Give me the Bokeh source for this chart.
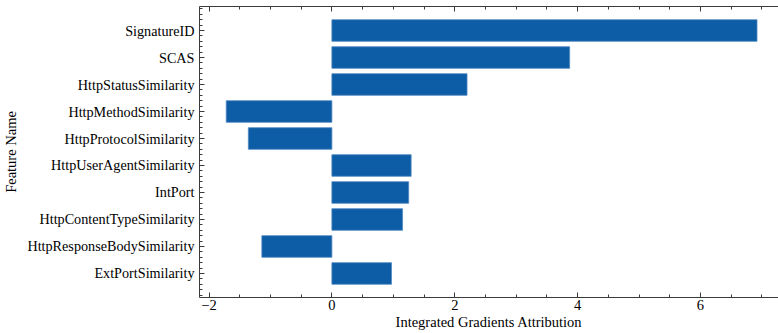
from bokeh.plotting import figure
from bokeh.models import Range1d, FixedTicker, LinearAxis, ColumnDataSource
from bokeh.embed import file_html
from bokeh.resources import INLINE

features = [
    "SignatureID", "SCAS", "HttpStatusSimilarity", "HttpMethodSimilarity",
    "HttpProtocolSimilarity", "HttpUserAgentSimilarity", "IntPort",
    "HttpContentTypeSimilarity", "HttpResponseBodySimilarity", "ExtPortSimilarity",
]
attribution = [6.92, 3.87, 2.20, -1.72, -1.36, 1.29, 1.25, 1.15, -1.14, 0.97]
x_ticks = [-2, 0, 2, 4, 6]

FONT = "Liberation Serif"
AXIS_COLOR = "#3a3a3a"

pos = list(range(len(features)))
src = ColumnDataSource(dict(y=pos, right=attribution, left=[0] * len(pos)))

p = figure(width=778, height=333, output_backend="svg", toolbar_location=None,
           x_range=Range1d(-2.155, 7.27), y_range=Range1d(len(pos) - 0.11, -0.89),
           min_border_left=198, min_border_right=0, min_border_top=6, min_border_bottom=36,
           x_axis_location=None, y_axis_location=None)
p.outline_line_color = None
p.grid.visible = False
p.background_fill_color = "white"
p.border_fill_color = "white"

p.hbar(y="y", left="left", right="right", height=0.8, source=src,
       fill_color="#0C5DA5", line_color="#4f88c2", line_width=0.8)

x_minor = [v / 2 for v in range(-5, 15)]
y_minor = [round(-0.8 + 0.2 * i, 2) for i in range(int((len(pos) + 0.8) / 0.2) + 1)]


def style(ax):
    ax.axis_line_color = AXIS_COLOR
    ax.axis_line_width = 1
    ax.major_tick_line_color = AXIS_COLOR
    ax.minor_tick_line_color = AXIS_COLOR
    ax.major_tick_in = 5
    ax.major_tick_out = 0
    ax.minor_tick_in = 3
    ax.minor_tick_out = 0
    ax.major_label_text_font = FONT
    ax.major_label_text_color = "black"
    ax.axis_label_text_font = FONT
    ax.axis_label_text_font_style = "normal"
    ax.axis_label_text_color = "black"


xb = LinearAxis(ticker=FixedTicker(ticks=x_ticks, minor_ticks=x_minor),
                axis_label="Integrated Gradients Attribution")
style(xb)
xb.major_label_text_font_size = "14.5px"
xb.axis_label_text_font_size = "14.5px"
xb.major_label_standoff = 2
xb.axis_label_standoff = 1
xb.major_label_overrides = {t: (str(t).replace("-", "\u2212")) for t in x_ticks}
p.add_layout(xb, "below")

# top spine with inward ticks, no labels
xt = LinearAxis(ticker=FixedTicker(ticks=x_ticks, minor_ticks=x_minor))
style(xt)
xt.major_label_text_color = None
xt.major_label_text_font_size = "1px"
xt.major_label_standoff = 0
p.add_layout(xt, "above")

yl = LinearAxis(ticker=FixedTicker(ticks=pos, minor_ticks=y_minor),
                axis_label="Feature Name")
style(yl)
yl.major_label_text_font_size = "14.2px"
yl.axis_label_text_font_size = "14.5px"
yl.major_label_standoff = 5
yl.axis_label_standoff = 5
yl.major_label_overrides = {i: name for i, name in enumerate(features)}
p.add_layout(yl, "left")

open("out.html", "w").write(file_html(p, INLINE))
